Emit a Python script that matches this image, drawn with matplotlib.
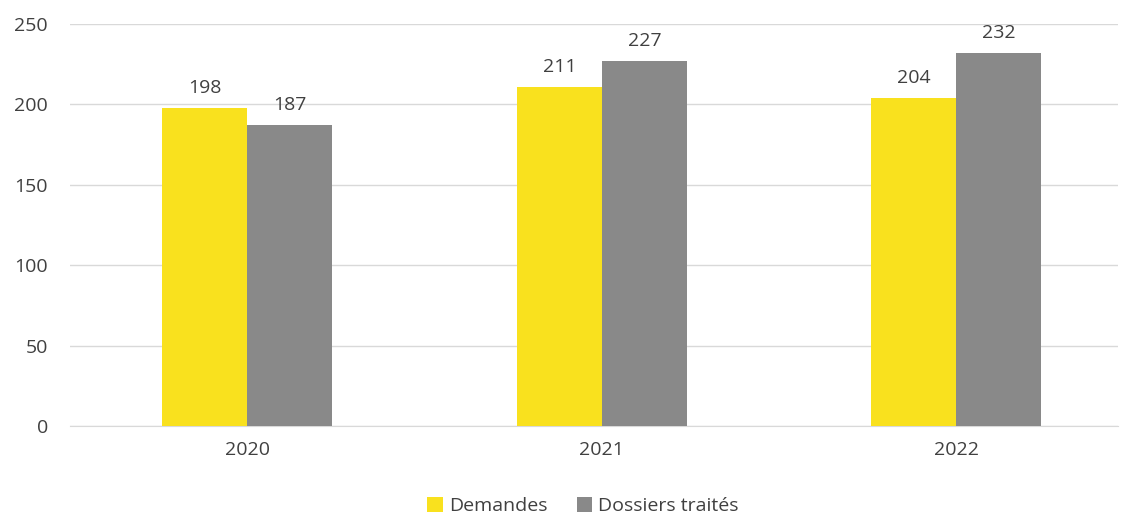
import numpy as np
import matplotlib.pyplot as plt

years = ['2020', '2021', '2022']
demandes = [198, 211, 204]
dossiers = [187, 227, 232]

plt.rcParams['font.family'] = ['Open Sans', 'DejaVu Sans']

fig = plt.figure(figsize=(11.21, 5.19), dpi=100)
ax = fig.add_axes([70 / 1121, 1 - 426 / 519, 1048 / 1121, 402 / 519])

x = np.arange(len(years))
w = 0.24
b1 = ax.bar(x - w / 2, demandes, w, color='#F9E11E', label='Demandes', zorder=3)
b2 = ax.bar(x + w / 2, dossiers, w, color='#898989', label='Dossiers traités', zorder=3)

for bars in (b1, b2):
    for rect in bars:
        h = rect.get_height()
        ax.annotate(str(int(h)), (rect.get_x() + rect.get_width() / 2, h),
                    xytext=(0, 8), textcoords='offset points',
                    ha='center', va='bottom', fontsize=14, color='#404040')

ax.set_xlim(-0.5, 2.456)
ax.set_ylim(0, 250)
ax.set_yticks(range(0, 251, 50))
ax.set_xticks(x)
ax.set_xticklabels(years)
ax.yaxis.grid(True, color='#D9D9D9', linewidth=1, zorder=0)
for s in ('top', 'right', 'left'):
    ax.spines[s].set_visible(False)
ax.spines['bottom'].set_color('#D9D9D9')
ax.tick_params(axis='both', length=0, labelsize=14, labelcolor='#404040')
ax.tick_params(axis='y', pad=16)
ax.tick_params(axis='x', pad=11)

fig.legend(handles=[b1, b2], loc='center', bbox_to_anchor=(0.52, 0.025), ncol=2,
           frameon=False, fontsize=14, handlelength=0.8, handleheight=0.8,
           handletextpad=0.3, columnspacing=1.5, labelcolor='#404040',
           borderpad=0)

fig.savefig('out.png', dpi=100)
